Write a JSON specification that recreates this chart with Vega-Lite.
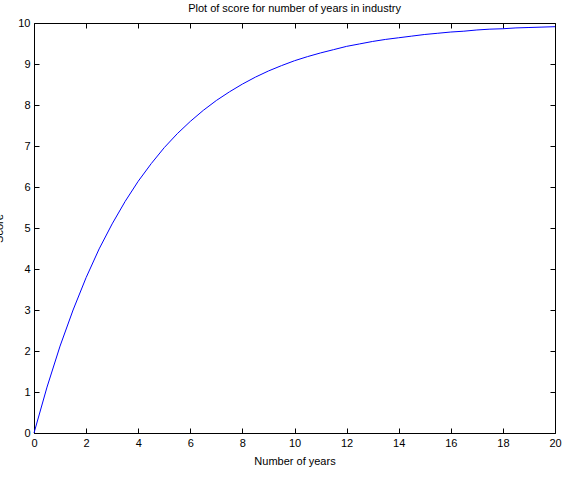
{
  "$schema": "https://vega.github.io/schema/vega-lite/v6.json",
  "autosize": "none",
  "width": 521,
  "height": 410,
  "padding": {"left": 34, "top": 23, "right": 29, "bottom": 49},
  "background": "white",
  "title": {
    "text": "Plot of score for number of years in industry",
    "font": "Liberation Sans",
    "fontSize": 11,
    "fontWeight": "normal",
    "color": "black",
    "anchor": "middle",
    "offset": 3
  },
  "data": {
    "values": [
      {"years": 0, "score": 0},
      {"years": 0.5, "score": 1.12},
      {"years": 1, "score": 2.12},
      {"years": 1.5, "score": 3.0},
      {"years": 2, "score": 3.79},
      {"years": 2.5, "score": 4.49},
      {"years": 3, "score": 5.1},
      {"years": 3.5, "score": 5.65},
      {"years": 4, "score": 6.14},
      {"years": 4.5, "score": 6.57},
      {"years": 5, "score": 6.96},
      {"years": 5.5, "score": 7.3},
      {"years": 6, "score": 7.6},
      {"years": 6.5, "score": 7.87},
      {"years": 7, "score": 8.11},
      {"years": 7.5, "score": 8.32},
      {"years": 8, "score": 8.51},
      {"years": 8.5, "score": 8.68},
      {"years": 9, "score": 8.83},
      {"years": 9.5, "score": 8.96},
      {"years": 10, "score": 9.08},
      {"years": 10.5, "score": 9.18},
      {"years": 11, "score": 9.27},
      {"years": 11.5, "score": 9.35},
      {"years": 12, "score": 9.43},
      {"years": 12.5, "score": 9.49},
      {"years": 13, "score": 9.55},
      {"years": 13.5, "score": 9.6},
      {"years": 14, "score": 9.64},
      {"years": 14.5, "score": 9.68},
      {"years": 15, "score": 9.72},
      {"years": 15.5, "score": 9.75},
      {"years": 16, "score": 9.78},
      {"years": 16.5, "score": 9.8},
      {"years": 17, "score": 9.83},
      {"years": 17.5, "score": 9.85},
      {"years": 18, "score": 9.86},
      {"years": 18.5, "score": 9.88},
      {"years": 19, "score": 9.89},
      {"years": 19.5, "score": 9.9},
      {"years": 20, "score": 9.91}
    ]
  },
  "layer": [
    {
      "mark": {"type": "line", "color": "#0000ff", "strokeWidth": 1},
      "encoding": {
        "x": {
          "field": "years",
          "type": "quantitative",
          "scale": {"domain": [0, 20], "nice": false},
          "axis": {
            "orient": "bottom",
            "values": [0, 2, 4, 6, 8, 10, 12, 14, 16, 18, 20],
            "title": "Number of years",
            "titlePadding": 7
          }
        },
        "y": {
          "field": "score",
          "type": "quantitative",
          "scale": {"domain": [0, 10], "nice": false},
          "axis": {
            "orient": "left",
            "values": [0, 1, 2, 3, 4, 5, 6, 7, 8, 9, 10],
            "title": "Score",
            "titlePadding": 13
          }
        }
      }
    },
    {
      "mark": {"type": "line", "opacity": 0},
      "encoding": {
        "x": {
          "field": "years",
          "type": "quantitative",
          "scale": {"domain": [0, 20], "nice": false},
          "axis": {
            "orient": "top",
            "values": [0, 2, 4, 6, 8, 10, 12, 14, 16, 18, 20],
            "labels": false,
            "title": null
          }
        },
        "y": {
          "field": "score",
          "type": "quantitative",
          "scale": {"domain": [0, 10], "nice": false},
          "axis": {
            "orient": "right",
            "values": [0, 1, 2, 3, 4, 5, 6, 7, 8, 9, 10],
            "labels": false,
            "title": null
          }
        }
      }
    }
  ],
  "resolve": {"axis": {"x": "independent", "y": "independent"}},
  "config": {
    "view": {"stroke": null},
    "axis": {
      "grid": false,
      "domainColor": "#000000",
      "tickColor": "#000000",
      "tickSize": -5,
      "labelPadding": 9,
      "labelFlush": false,
      "labelOverlap": false,
      "labelFont": "Liberation Sans",
      "labelFontSize": 11,
      "labelColor": "#000000",
      "titleFont": "Liberation Sans",
      "titleFontSize": 11,
      "titleFontWeight": "normal",
      "titleColor": "#000000"
    }
  }
}
